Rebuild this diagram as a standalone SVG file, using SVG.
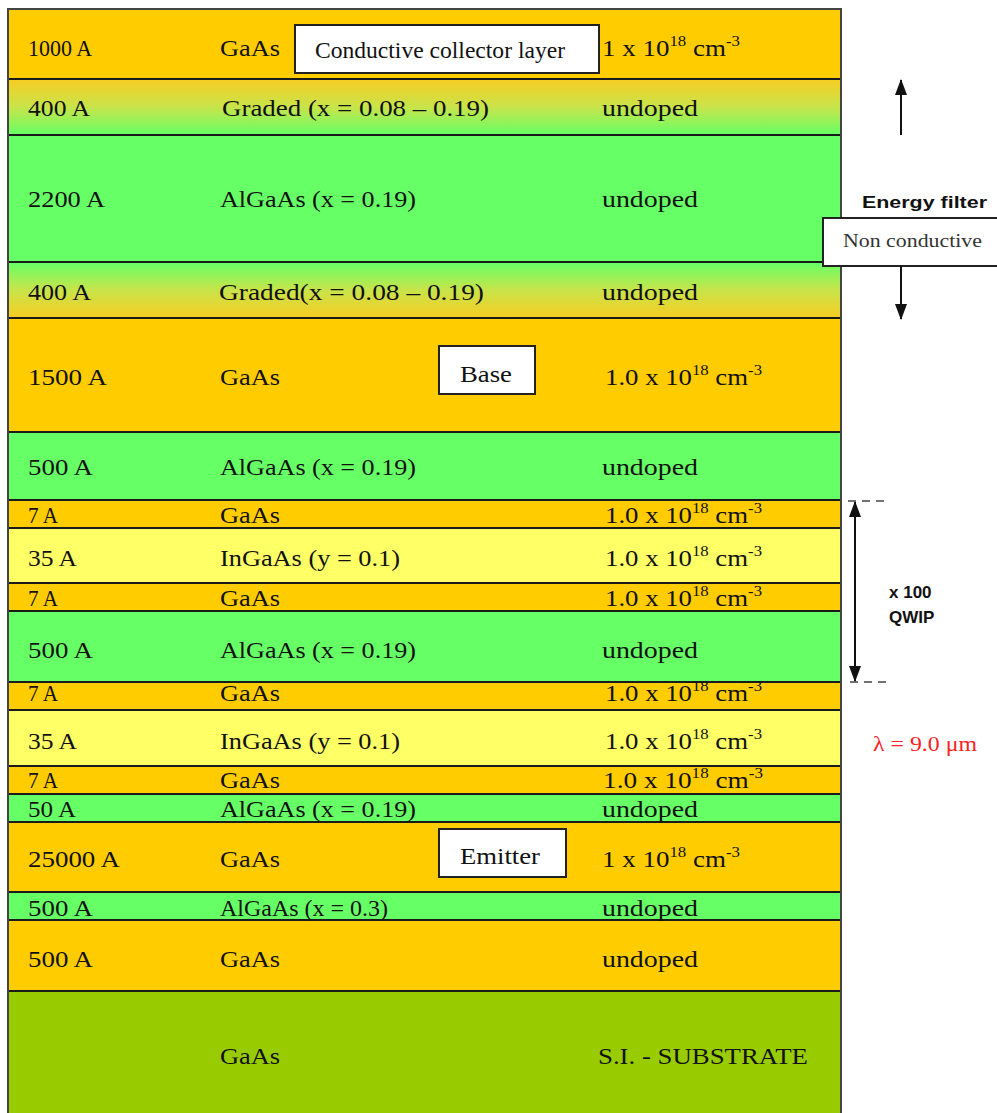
<svg xmlns="http://www.w3.org/2000/svg" width="997" height="1113" viewBox="0 0 997 1113">
  <style>
    .t { font-family: "Liberation Serif", "Times New Roman", serif; font-size: 24px; fill: #111; }
    .sup { font-size: 15px; }
    .sep { stroke: #1a1a1a; stroke-width: 2; }
    .lbl { fill: #fff; stroke: #222; stroke-width: 2; }
    .sans { font-family: "Liberation Sans", Arial, sans-serif; font-size: 17px; font-weight: bold; fill: #111; }
    .orange { fill: #FFCC00; }
    .green { fill: #66FF66; }
    .yellow { fill: #FFFF66; }
    .sub { fill: #99CC00; }
    .arr { stroke: #111; stroke-width: 2; fill: none; }
    .dash { stroke: #444; stroke-width: 1.5; stroke-dasharray: 8 6; fill: none; }
  </style>
  <defs>
    <linearGradient id="gradDown" x1="0" y1="0" x2="0" y2="1">
      <stop offset="0" stop-color="#F8CC22"/>
      <stop offset="0.5" stop-color="#C8E44A"/>
      <stop offset="1" stop-color="#66FF66"/>
    </linearGradient>
    <linearGradient id="gradUp" x1="0" y1="0" x2="0" y2="1">
      <stop offset="0" stop-color="#66FF66"/>
      <stop offset="0.5" stop-color="#C8E44A"/>
      <stop offset="1" stop-color="#F8CC22"/>
    </linearGradient>
    <marker id="head" viewBox="0 0 16 12" refX="15" refY="6" markerWidth="8" markerHeight="6" orient="auto-start-reverse" markerUnits="strokeWidth">
      <path d="M0,0 L16,6 L0,12 Z" fill="#111"/>
    </marker>
  </defs>

  <!-- layer stack -->
  <g id="stack">
    <rect x="8" y="9" width="833" height="70" class="orange"/>
    <rect x="8" y="79" width="833" height="56" fill="url(#gradDown)"/>
    <rect x="8" y="135" width="833" height="127" class="green"/>
    <rect x="8" y="262" width="833" height="56" fill="url(#gradUp)"/>
    <rect x="8" y="318" width="833" height="114" class="orange"/>
    <rect x="8" y="432" width="833" height="68" class="green"/>
    <rect x="8" y="500" width="833" height="28" class="orange"/>
    <rect x="8" y="528" width="833" height="55" class="yellow"/>
    <rect x="8" y="583" width="833" height="28" class="orange"/>
    <rect x="8" y="611" width="833" height="71" class="green"/>
    <rect x="8" y="682" width="833" height="28" class="orange"/>
    <rect x="8" y="710" width="833" height="56" class="yellow"/>
    <rect x="8" y="766" width="833" height="28" class="orange"/>
    <rect x="8" y="794" width="833" height="28" class="green"/>
    <rect x="8" y="822" width="833" height="70" class="orange"/>
    <rect x="8" y="892" width="833" height="28" class="green"/>
    <rect x="8" y="920" width="833" height="71" class="orange"/>
    <rect x="8" y="991" width="833" height="130" class="sub"/>

    <g class="sep">
      <line x1="8" y1="79" x2="841" y2="79"/>
      <line x1="8" y1="135" x2="841" y2="135"/>
      <line x1="8" y1="262" x2="841" y2="262"/>
      <line x1="8" y1="318" x2="841" y2="318"/>
      <line x1="8" y1="432" x2="841" y2="432"/>
      <line x1="8" y1="500" x2="841" y2="500"/>
      <line x1="8" y1="528" x2="841" y2="528"/>
      <line x1="8" y1="583" x2="841" y2="583"/>
      <line x1="8" y1="611" x2="841" y2="611"/>
      <line x1="8" y1="682" x2="841" y2="682"/>
      <line x1="8" y1="710" x2="841" y2="710"/>
      <line x1="8" y1="766" x2="841" y2="766"/>
      <line x1="8" y1="794" x2="841" y2="794"/>
      <line x1="8" y1="822" x2="841" y2="822"/>
      <line x1="8" y1="892" x2="841" y2="892"/>
      <line x1="8" y1="920" x2="841" y2="920"/>
      <line x1="8" y1="991" x2="841" y2="991"/>
    </g>
    <rect x="8" y="9" width="833" height="1112" fill="none" stroke="#444" stroke-width="2"/>
  </g>

  <!-- thickness column -->
  <g id="thickness" class="t">
    <text x="28" y="56" textLength="64" lengthAdjust="spacingAndGlyphs">1000 A</text>
    <text x="28" y="116" textLength="62" lengthAdjust="spacingAndGlyphs">400 A</text>
    <text x="28" y="207" textLength="77" lengthAdjust="spacingAndGlyphs">2200 A</text>
    <text x="28" y="300" textLength="63" lengthAdjust="spacingAndGlyphs">400 A</text>
    <text x="28" y="385" textLength="79" lengthAdjust="spacingAndGlyphs">1500 A</text>
    <text x="28" y="475" textLength="65" lengthAdjust="spacingAndGlyphs">500 A</text>
    <text x="28" y="523" textLength="30" lengthAdjust="spacingAndGlyphs">7 A</text>
    <text x="28" y="566" textLength="49" lengthAdjust="spacingAndGlyphs">35 A</text>
    <text x="28" y="606" textLength="30" lengthAdjust="spacingAndGlyphs">7 A</text>
    <text x="28" y="658" textLength="65" lengthAdjust="spacingAndGlyphs">500 A</text>
    <text x="28" y="701" textLength="30" lengthAdjust="spacingAndGlyphs">7 A</text>
    <text x="28" y="749" textLength="49" lengthAdjust="spacingAndGlyphs">35 A</text>
    <text x="28" y="788" textLength="30" lengthAdjust="spacingAndGlyphs">7 A</text>
    <text x="28" y="817" textLength="48" lengthAdjust="spacingAndGlyphs">50 A</text>
    <text x="28" y="867" textLength="92" lengthAdjust="spacingAndGlyphs">25000 A</text>
    <text x="28" y="916" textLength="65" lengthAdjust="spacingAndGlyphs">500 A</text>
    <text x="28" y="967" textLength="65" lengthAdjust="spacingAndGlyphs">500 A</text>
  </g>

  <!-- material column -->
  <g id="material" class="t">
    <text x="220" y="56" textLength="60" lengthAdjust="spacingAndGlyphs">GaAs</text>
    <text x="222" y="116" textLength="267" lengthAdjust="spacingAndGlyphs">Graded (x = 0.08 – 0.19)</text>
    <text x="220" y="207" textLength="196" lengthAdjust="spacingAndGlyphs">AlGaAs (x = 0.19)</text>
    <text x="219" y="300" textLength="265" lengthAdjust="spacingAndGlyphs">Graded(x = 0.08 – 0.19)</text>
    <text x="220" y="385" textLength="60" lengthAdjust="spacingAndGlyphs">GaAs</text>
    <text x="220" y="475" textLength="196" lengthAdjust="spacingAndGlyphs">AlGaAs (x = 0.19)</text>
    <text x="220" y="523" textLength="60" lengthAdjust="spacingAndGlyphs">GaAs</text>
    <text x="220" y="566" textLength="180" lengthAdjust="spacingAndGlyphs">InGaAs (y = 0.1)</text>
    <text x="220" y="606" textLength="60" lengthAdjust="spacingAndGlyphs">GaAs</text>
    <text x="220" y="658" textLength="196" lengthAdjust="spacingAndGlyphs">AlGaAs (x = 0.19)</text>
    <text x="220" y="701" textLength="60" lengthAdjust="spacingAndGlyphs">GaAs</text>
    <text x="220" y="749" textLength="180" lengthAdjust="spacingAndGlyphs">InGaAs (y = 0.1)</text>
    <text x="220" y="788" textLength="60" lengthAdjust="spacingAndGlyphs">GaAs</text>
    <text x="220" y="817" textLength="196" lengthAdjust="spacingAndGlyphs">AlGaAs (x = 0.19)</text>
    <text x="220" y="867" textLength="60" lengthAdjust="spacingAndGlyphs">GaAs</text>
    <text x="220" y="916" textLength="168" lengthAdjust="spacingAndGlyphs">AlGaAs (x = 0.3)</text>
    <text x="220" y="967" textLength="60" lengthAdjust="spacingAndGlyphs">GaAs</text>
    <text x="220" y="1064" textLength="60" lengthAdjust="spacingAndGlyphs">GaAs</text>
  </g>

  <!-- doping column -->
  <g id="doping" class="t">
    <text x="602" y="56" textLength="138" lengthAdjust="spacingAndGlyphs">1 x 10<tspan class="sup" dy="-10">18</tspan><tspan dy="10"> cm</tspan><tspan class="sup" dy="-10">-3</tspan></text>
    <text x="602" y="116" textLength="96" lengthAdjust="spacingAndGlyphs">undoped</text>
    <text x="602" y="207" textLength="96" lengthAdjust="spacingAndGlyphs">undoped</text>
    <text x="602" y="300" textLength="96" lengthAdjust="spacingAndGlyphs">undoped</text>
    <text x="605" y="385" textLength="157" lengthAdjust="spacingAndGlyphs">1.0 x 10<tspan class="sup" dy="-10">18</tspan><tspan dy="10"> cm</tspan><tspan class="sup" dy="-10">-3</tspan></text>
    <text x="602" y="475" textLength="96" lengthAdjust="spacingAndGlyphs">undoped</text>
    <text x="605" y="523" textLength="157" lengthAdjust="spacingAndGlyphs">1.0 x 10<tspan class="sup" dy="-10">18</tspan><tspan dy="10"> cm</tspan><tspan class="sup" dy="-10">-3</tspan></text>
    <text x="605" y="566" textLength="157" lengthAdjust="spacingAndGlyphs">1.0 x 10<tspan class="sup" dy="-10">18</tspan><tspan dy="10"> cm</tspan><tspan class="sup" dy="-10">-3</tspan></text>
    <text x="605" y="606" textLength="157" lengthAdjust="spacingAndGlyphs">1.0 x 10<tspan class="sup" dy="-10">18</tspan><tspan dy="10"> cm</tspan><tspan class="sup" dy="-10">-3</tspan></text>
    <text x="602" y="658" textLength="96" lengthAdjust="spacingAndGlyphs">undoped</text>
    <text x="605" y="701" textLength="157" lengthAdjust="spacingAndGlyphs">1.0 x 10<tspan class="sup" dy="-10">18</tspan><tspan dy="10"> cm</tspan><tspan class="sup" dy="-10">-3</tspan></text>
    <text x="605" y="749" textLength="157" lengthAdjust="spacingAndGlyphs">1.0 x 10<tspan class="sup" dy="-10">18</tspan><tspan dy="10"> cm</tspan><tspan class="sup" dy="-10">-3</tspan></text>
    <text x="603" y="788" textLength="160" lengthAdjust="spacingAndGlyphs">1.0  x 10<tspan class="sup" dy="-10">18</tspan><tspan dy="10"> cm</tspan><tspan class="sup" dy="-10">-3</tspan></text>
    <text x="602" y="817" textLength="96" lengthAdjust="spacingAndGlyphs">undoped</text>
    <text x="602" y="867" textLength="138" lengthAdjust="spacingAndGlyphs">1 x 10<tspan class="sup" dy="-10">18</tspan><tspan dy="10"> cm</tspan><tspan class="sup" dy="-10">-3</tspan></text>
    <text x="602" y="916" textLength="96" lengthAdjust="spacingAndGlyphs">undoped</text>
    <text x="602" y="967" textLength="96" lengthAdjust="spacingAndGlyphs">undoped</text>
    <text x="598" y="1064" textLength="210" lengthAdjust="spacingAndGlyphs">S.I. - SUBSTRATE</text>
  </g>

  <!-- region labels -->
  <g id="collector-label">
    <rect x="295" y="25" width="304" height="48" class="lbl"/>
    <text x="315" y="58" class="t" textLength="250" lengthAdjust="spacingAndGlyphs">Conductive collector  layer</text>
  </g>
  <g id="base-label">
    <rect x="439" y="346" width="96" height="48" class="lbl"/>
    <text x="460" y="382" class="t" textLength="52" lengthAdjust="spacingAndGlyphs">Base</text>
  </g>
  <g id="emitter-label">
    <rect x="439" y="829" width="127" height="48" class="lbl"/>
    <text x="460" y="864" class="t" textLength="80" lengthAdjust="spacingAndGlyphs">Emitter</text>
  </g>
  <g id="filter-label">
    <text x="862" y="208" class="sans" textLength="125" lengthAdjust="spacingAndGlyphs">Energy filter</text>
    <rect x="823" y="218" width="176" height="48" class="lbl"/>
    <text x="843" y="247" class="t" style="font-size:19px; fill:#333" textLength="139" lengthAdjust="spacingAndGlyphs">Non conductive</text>
  </g>
  <g id="qwip-label">
    <text x="889" y="598" class="sans">x 100</text>
    <text x="889" y="623" class="sans">QWIP</text>
  </g>
  <g id="wavelength-label">
    <text x="873" y="751" class="t" style="font-size:22px; fill:#ff2222" textLength="104" lengthAdjust="spacingAndGlyphs">λ = 9.0 μm</text>
  </g>

  <!-- connectors -->
  <g id="connectors">
    <line x1="901" y1="135" x2="901" y2="80" class="arr" marker-end="url(#head)"/>
    <line x1="901" y1="266" x2="901" y2="319" class="arr" marker-end="url(#head)"/>
    <line x1="855" y1="502" x2="855" y2="681" class="arr" marker-start="url(#head)" marker-end="url(#head)"/>
    <line x1="848" y1="501" x2="886" y2="501" class="dash"/>
    <line x1="850" y1="682" x2="886" y2="682" class="dash"/>
  </g>
</svg>
